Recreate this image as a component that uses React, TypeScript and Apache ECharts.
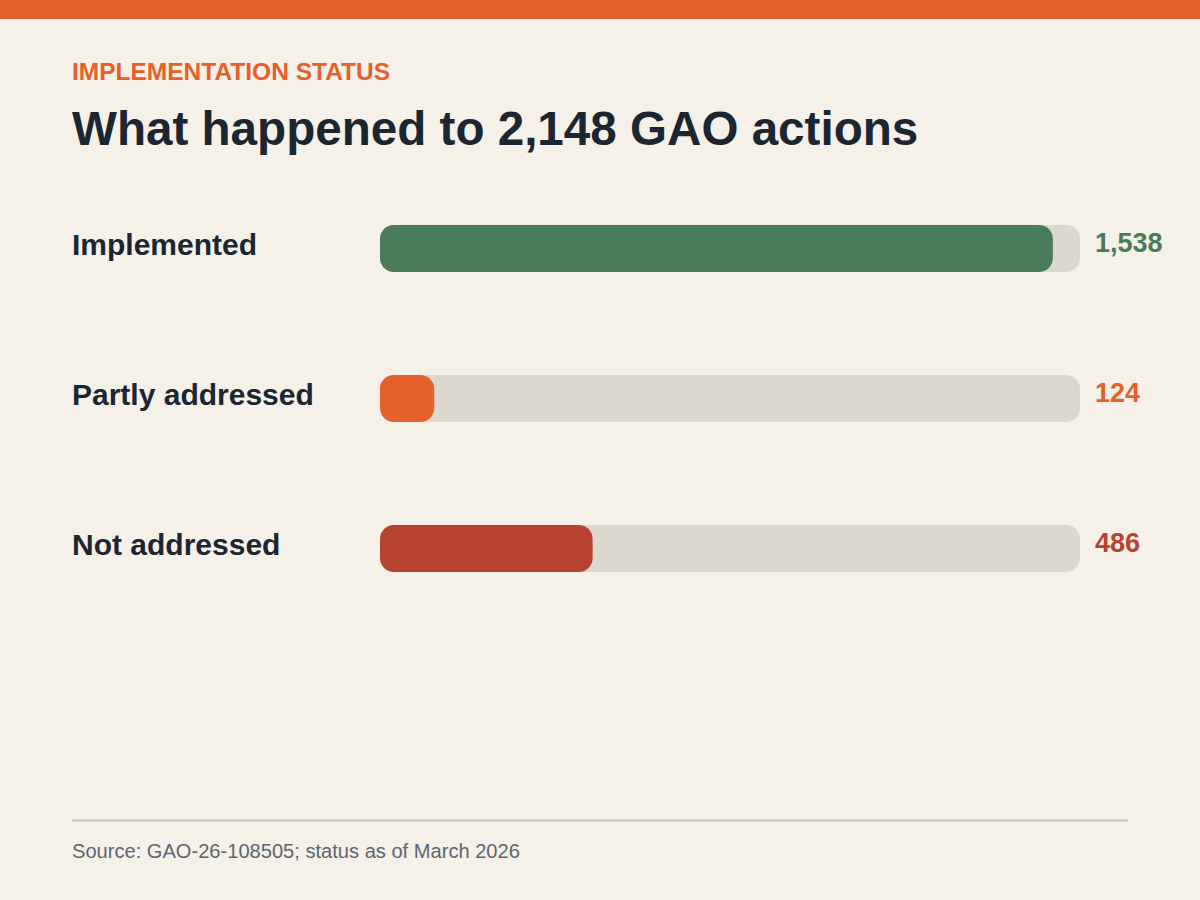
import { useEffect, useRef } from "react";
import * as echarts from "echarts";

const categories = ["Implemented", "Partly addressed", "Not addressed"];
const values = [1538, 124, 486];
const barColors = ["#4a7c59", "#e5602b", "#b5432f"];
const AXIS_MAX = 1600;

const FONT = '"Liberation Sans", Arial, sans-serif';
const BG = "#f5f0e8";
const ORANGE = "#e5602b";
const INK = "#1b2631";
const TRACK = "#ddd8cd";

export default function App() {
  const ref = useRef<HTMLDivElement>(null);

  useEffect(() => {
    if (!ref.current) return;
    const chart = echarts.init(ref.current, undefined, { renderer: "svg" });

    chart.setOption({
      animation: false,
      backgroundColor: BG,
      textStyle: { fontFamily: FONT },
      grid: { left: 380, right: 120, top: 173.5, height: 450 },
      xAxis: {
        type: "value",
        min: 0,
        max: AXIS_MAX,
        show: false,
      },
      yAxis: {
        type: "category",
        inverse: true,
        data: categories,
        axisLine: { show: false },
        axisTick: { show: false },
        splitLine: { show: false },
        axisLabel: {
          align: "left",
          margin: 308,
          // rich box with bottom padding lifts the label a few px above the bar centre
          formatter: (v: string) => `{l|${v}}`,
          rich: {
            l: {
              color: INK,
              fontSize: 30,
              fontWeight: "bold",
              fontFamily: FONT,
              padding: [0, 0, 8, 0],
            },
          },
        },
      },
      series: [
        {
          // grey track spanning the whole axis, carries the value label
          name: "track",
          type: "bar",
          silent: true,
          barWidth: 47,
          z: 1,
          itemStyle: { color: TRACK, borderRadius: 14 },
          data: categories.map((_, i) => ({
            value: AXIS_MAX,
            label: { color: barColors[i] },
          })),
          label: {
            show: true,
            position: "right",
            distance: 15,
            offset: [0, -6],
            fontSize: 27,
            fontWeight: "bold",
            fontFamily: FONT,
            formatter: (p: { dataIndex: number }) =>
              values[p.dataIndex].toLocaleString("en-US"),
          },
        },
        {
          name: "actions",
          type: "bar",
          barWidth: 47,
          barGap: "-100%",
          z: 2,
          itemStyle: { borderRadius: 14 },
          data: values.map((v, i) => ({
            value: v,
            itemStyle: { color: barColors[i] },
          })),
        },
      ],
      graphic: [
        {
          type: "rect",
          shape: { x: 0, y: 0, width: 1200, height: 19 },
          style: { fill: ORANGE },
        },
        {
          type: "text",
          left: 72,
          top: 59,
          style: {
            text: "IMPLEMENTATION STATUS",
            fill: ORANGE,
            font: `bold 24.5px ${FONT}`,
          },
        },
        {
          type: "text",
          left: 72,
          top: 104,
          style: {
            text: "What happened to 2,148 GAO actions",
            fill: INK,
            font: `bold 47.6px ${FONT}`,
          },
        },
        {
          type: "line",
          shape: { x1: 72, y1: 820.5, x2: 1128, y2: 820.5 },
          style: { stroke: "#cbc6b9", lineWidth: 2 },
        },
        {
          type: "text",
          left: 72,
          top: 841,
          style: {
            text: "Source: GAO-26-108505; status as of March 2026",
            fill: "#5d6670",
            font: `20.1px ${FONT}`,
          },
        },
      ],
    });

    return () => chart.dispose();
  }, []);

  return (
    <div
      ref={ref}
      style={{ position: "absolute", left: 0, top: 0, width: 1200, height: 900 }}
    />
  );
}
